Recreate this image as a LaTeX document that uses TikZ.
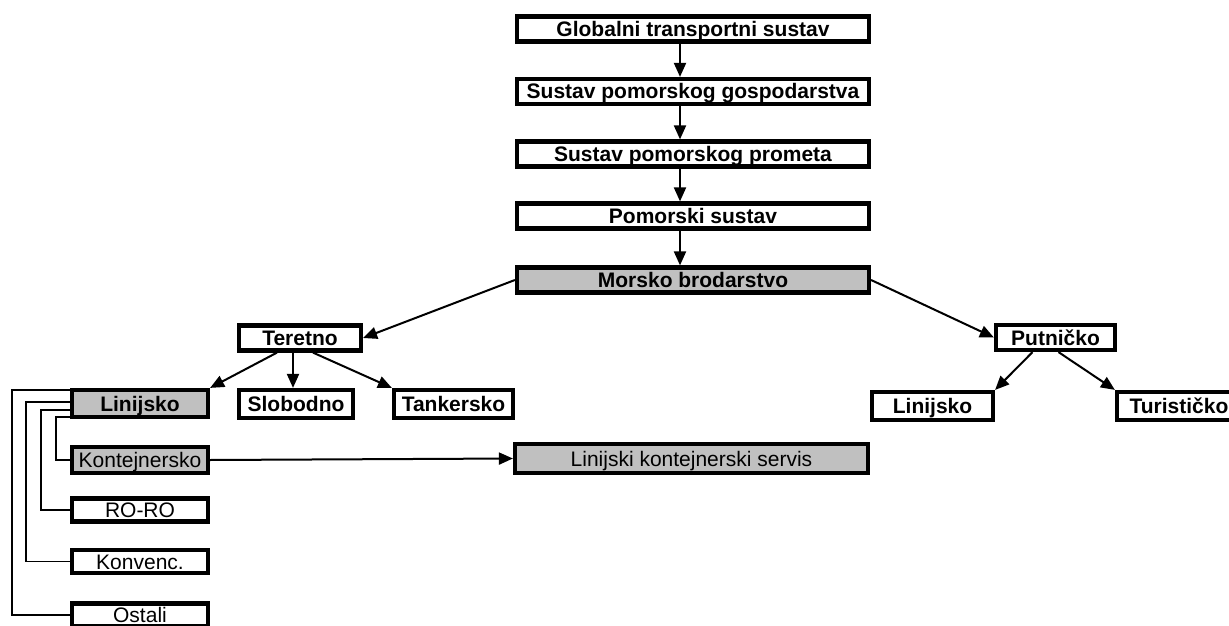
\documentclass[tikz,border=0pt]{standalone}
\usepackage{fontspec}
\setmainfont{Liberation Sans}
\usetikzlibrary{arrows.meta,calc}
\definecolor{boxgray}{RGB}{192,192,192}
\tikzstyle{box}=[draw,line width=4.2pt,inner sep=0pt,minimum height=25pt,text height=15pt,text depth=0pt,font=\fontsize{21}{24}\selectfont\bfseries]
\tikzstyle{plainbox}=[box,font=\fontsize{21}{24}\selectfont]
\tikzstyle{shaded}=[fill=boxgray]
\tikzstyle{arr}=[line width=2pt,-{Triangle[length=14pt,width=12pt]}]
\tikzstyle{brace}=[line width=1.3pt]
\newcommand{\drawdown}[1]{
	\foreach \a/\b in {#1}{
		\draw[arr] ([xshift=-13pt]\a.south) -- ([xshift=-13pt]\b.north);
	}
}

\begin{document}
\begin{tikzpicture}[x=1pt,y=-1pt]

\clip (0,0) rectangle (1229,626);

% chain at the top
\node[box,minimum width=352pt] (glob) at (693, 29) {Globalni transportni sustav};
\node[box,minimum width=352pt] (gosp) at (693, 91.5) {Sustav pomorskog gospodarstva};
\node[box,minimum width=352pt] (prom) at (693, 154) {Sustav pomorskog prometa};
\node[box,minimum width=352pt] (pom) at (693, 216) {Pomorski sustav};
\node[box,shaded,minimum width=352pt] (morsko) at (693, 280) {Morsko brodarstvo};

\drawdown{glob/gosp,gosp/prom,prom/pom,pom/morsko}

% cargo side
\node[box,minimum width=122pt] (teretno) at (300, 338) {Teretno};
\node[box,shaded,minimum width=136pt,minimum height=27pt] (linL) at (140, 403.5) {Linijsko};
\node[box,minimum width=114pt,minimum height=28pt] (slobodno) at (296, 404) {Slobodno};
\node[box,minimum width=119pt,minimum height=28pt] (tankersko) at (453.5, 404) {Tankersko};

\node[plainbox,shaded,minimum width=136pt,minimum height=26pt] (kont) at (140, 460) {Kontejnersko};
\node[plainbox,minimum width=136pt,minimum height=23pt] (roro) at (140, 510) {RO-RO};
\node[plainbox,minimum width=136pt,minimum height=23pt] (konv) at (140, 561.5) {Konvenc.};
\node[plainbox,minimum width=136pt,minimum height=23pt] (ostali) at (140, 615) {Ostali};

\node[plainbox,shaded,minimum width=353pt,minimum height=29pt] (lks) at (691.5, 458.5) {Linijski kontejnerski servis};

% passenger side
\node[box,minimum width=119pt] (putnicko) at (1055.5, 337.5) {Putničko};
\node[box,minimum width=121pt,minimum height=28pt] (linR) at (932.5, 406) {Linijsko};
\node[box,minimum width=124pt,minimum height=28pt] (turist) at (1179, 406) {Turističko};

\draw[arr] (morsko.west) -- (teretno.east);
\draw[arr] (morsko.east) -- (putnicko.west);

\draw[arr] ([xshift=-23pt]teretno.south) -- (linL.north east);
\draw[arr] ([xshift=-7pt]teretno.south) -- ([xshift=-3pt]slobodno.north);
\draw[arr] ([xshift=13pt]teretno.south) -- (tankersko.north west);

\draw[arr] ([xshift=-23pt]putnicko.south) -- (linR.north east);
\draw[arr] ([xshift=3pt]putnicko.south) -- (turist.north west);

\draw[arr] (kont.east) -- (lks.west);

% brackets on the left
\draw[brace] ([yshift=13.5pt]linL.west) -- ++(-58,0) |- (ostali.west);
\draw[brace] ([yshift=1.5pt]linL.west) -- ++(-44,0) |- (konv.west);
\draw[brace] ([yshift=-6.5pt]linL.west) -- ++(-29,0) |- (roro.west);
\draw[brace] ([yshift=-13.5pt]linL.west) -- ++(-14,0) |- (kont.west);

\end{tikzpicture}
\end{document}
